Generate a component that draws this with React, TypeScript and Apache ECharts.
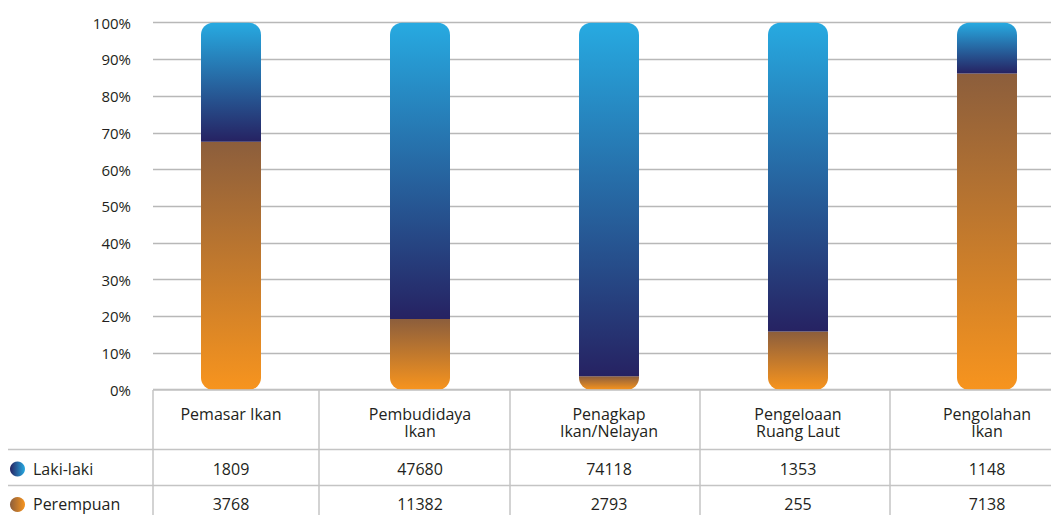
import React, { useEffect, useRef } from "react";
import * as echarts from "echarts";

const categories = ["Pemasar Ikan", "Pembudidaya\nIkan", "Penagkap\nIkan/Nelayan", "Pengeloaan\nRuang Laut", "Pengolahan\nIkan"];
const seriesNames = ["Laki-laki", "Perempuan"];
const lakiLaki = [1809, 47680, 74118, 1353, 1148];
const perempuan = [3768, 11382, 2793, 255, 7138];
const yTicks = [0, 10, 20, 30, 40, 50, 60, 70, 80, 90, 100];

const FONT = "'Open Sans', 'Noto Sans', sans-serif";
const TEXT = "#231f20";
const LINE = "#c4c4c4";

const grad = (c0: string, c1: string, horizontal = false) =>
  new echarts.graphic.LinearGradient(0, 0, horizontal ? 1 : 0, horizontal ? 0 : 1, [
    { offset: 0, color: c0 },
    { offset: 1, color: c1 },
  ]);

export default function App() {
  const ref = useRef<HTMLDivElement>(null);
  useEffect(() => {
    if (!ref.current) return;
    const chart = echarts.init(ref.current, undefined, { renderer: "svg" });
    const totals = lakiLaki.map((v, i) => v + perempuan[i]);
    const pctL = lakiLaki.map((v, i) => (v / totals[i]) * 100);
    const pctP = perempuan.map((v, i) => (v / totals[i]) * 100);
    const top = 22.7;
    const height = 367;
    chart.setOption({
      animation: false,
      grid: [
        { left: 231, width: 756, top, height },
        { left: 153, right: 0, top, height },
      ],
      xAxis: [
        { type: "category", gridIndex: 0, data: categories, show: false, boundaryGap: false },
        { type: "value", gridIndex: 1, show: false, min: 0, max: 1 },
      ],
      yAxis: [
        { type: "value", gridIndex: 0, min: 0, max: 100, show: false },
        {
          type: "value",
          gridIndex: 1,
          min: yTicks[0],
          max: yTicks[yTicks.length - 1],
          interval: 10,
          axisLine: { show: false },
          axisTick: { show: false },
          axisLabel: { formatter: "{value}%", fontSize: 15, color: TEXT, fontFamily: FONT, margin: 22 },
          splitLine: { lineStyle: { color: "#b8b8b8", width: 1.3 } },
        },
      ],
      series: [
        {
          name: seriesNames[1],
          type: "bar",
          stack: "total",
          xAxisIndex: 0,
          yAxisIndex: 0,
          barWidth: 60,
          data: pctP,
          itemStyle: { color: grad("#8c5e3c", "#f7941e"), borderRadius: [0, 0, 12, 12] },
        },
        {
          name: seriesNames[0],
          type: "bar",
          stack: "total",
          xAxisIndex: 0,
          yAxisIndex: 0,
          barWidth: 60,
          data: pctL,
          itemStyle: { color: grad("#27aae1", "#262262"), borderRadius: [12, 12, 0, 0] },
        },
      ],
    });

    const centers = categories.map((_, i) => chart.convertToPixel({ xAxisIndex: 0 }, i) as number);
    const W = 1051;
    const els: any[] = [];
    const hline = (x1: number, y: number) =>
      els.push({ type: "line", shape: { x1, y1: y, x2: W, y2: y }, style: { stroke: LINE, lineWidth: 1.5 }, z: 10 });
    hline(153, 390);
    hline(8, 449.5);
    hline(8, 485.5);
    [153, 319, 510, 700, 890].forEach((x) =>
      els.push({ type: "line", shape: { x1: x, y1: 390, x2: x, y2: 515 }, style: { stroke: LINE, lineWidth: 1.5 }, z: 10 })
    );
    const txt = (x: number, y: number, text: string, align = "center") =>
      els.push({
        type: "text",
        x,
        y,
        style: { text, fill: TEXT, font: `16px ${FONT}`, align, verticalAlign: "middle" },
        z: 11,
      });
    centers.forEach((cx, i) => {
      categories[i].split("\n").forEach((line, j) => txt(cx, 413.5 + j * 17.5, line));
      txt(cx, 468.5, String(lakiLaki[i]));
      txt(cx, 503.5, String(perempuan[i]));
    });
    els.push({ type: "circle", shape: { cx: 17.5, cy: 469, r: 7.5 }, style: { fill: grad("#262262", "#27aae1", true) }, z: 11 });
    els.push({ type: "circle", shape: { cx: 17.5, cy: 504.5, r: 7.5 }, style: { fill: grad("#8c5e3c", "#f7941e", true) }, z: 11 });
    txt(33, 468.5, seriesNames[0], "left");
    txt(33, 503.5, seriesNames[1], "left");
    chart.setOption({ graphic: els });

    return () => chart.dispose();
  }, []);
  return <div ref={ref} style={{ position: "fixed", left: 0, top: 0, width: 1051, height: 515, background: "#fff" }} />;
}
